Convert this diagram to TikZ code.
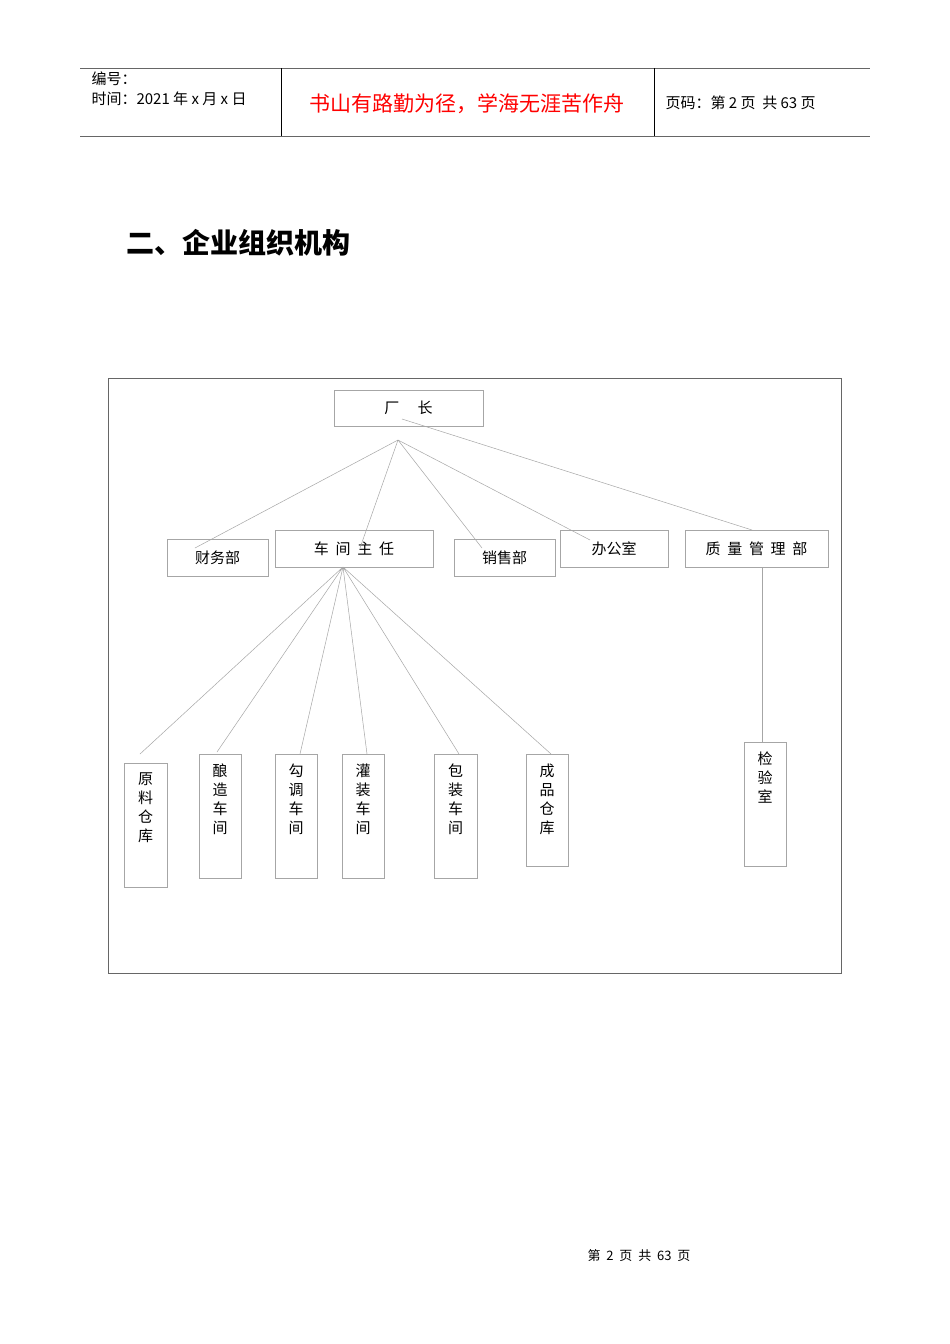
\documentclass[tikz,border=0pt]{standalone}
\usepackage{fontspec}
\setmainfont{Noto Sans CJK SC}
\begin{document}
\begin{tikzpicture}[x=1pt,y=-1pt,
  bx/.style={draw=gray!70,line width=0.6pt,inner sep=0pt,font=\fontsize{15}{15}\selectfont},
  ln/.style={draw=gray!70,line width=0.5pt},
  vt/.style={align=center,font=\fontsize{15}{19}\selectfont,anchor=north}]
\useasboundingbox[fill=white] (0,0) rectangle (950,1344);
% header
\draw[line width=0.8pt,gray!80!black] (80,68) -- (870,68);
\draw[line width=1pt,gray!80!black] (80,136) -- (870,136);
\draw[line width=0.6pt] (281,68) -- (281,136) (654,68) -- (654,136);
\node[anchor=west,font=\fontsize{15}{15}\selectfont] (h1) at (88,79) {编号：};
\node[anchor=west,font=\fontsize{15}{15}\selectfont] (h2) at (88,99) {时间：2021 年 x 月 x 日};
\node[font=\fontsize{21}{21}\selectfont,text=red] (h3) at (467,104) {书山有路勤为径，学海无涯苦作舟};
\node[anchor=west,font=\fontsize{15}{15}\selectfont] (h4) at (662,103) {页码：第 2 页\ \ 共 63 页};
\node[anchor=west,font=\bfseries\fontsize{28}{28}\selectfont] (title) at (123,243) {二、企业组织机构};
\node[font=\fontsize{13}{13}\selectfont] (foot) at (639,1256) {第\ \ 2\ \ 页\ \ 共\ \ 63\ \ 页};
% frame
\draw[line width=0.8pt,gray!80!black] (108,378) rectangle (841,973);
% top boxes
\node[bx,minimum width=149,minimum height=36] (cz) at (408.5,408) {厂\quad\ 长};
\node[bx,minimum width=101,minimum height=37] (cw) at (217.5,557.5) {财务部};
\node[bx,minimum width=158,minimum height=37] (cj) at (354,548.5) {车\ \ 间\ \ 主\ \ 任};
\node[bx,minimum width=101,minimum height=37] (xs) at (504.5,557.5) {销售部};
\node[bx,minimum width=108,minimum height=37] (bg) at (614,548.5) {办公室};
\node[bx,minimum width=143,minimum height=37] (zl) at (756.5,548.5) {质\ \ 量\ \ 管\ \ 理\ \ 部};
\coordinate (hub) at (398,440);
\coordinate (e1) at (195,548);
\coordinate (e2) at (360,548);
\coordinate (e3) at (482,548);
\coordinate (e4) at (590,540);
\coordinate (s5) at (402,419);
\coordinate (e5) at (752,530);
\draw[ln] (hub) -- (e1) (hub) -- (e2) (hub) -- (e3) (hub) -- (e4) (s5) -- (e5);
% workshop boxes
\foreach \n/\xa/\ya/\xb/\yb/\t in {yl/124/763/167/887/原\\料\\仓\\库, nz/199/754/241/878/酿\\造\\车\\间, gd/275/754/317/878/勾\\调\\车\\间, gz/342/754/384/878/灌\\装\\车\\间, bz/434/754/477/878/包\\装\\车\\间, cp/526/754/568/866/成\\品\\仓\\库, jy/744/742/786/866/检\\验\\室}{
  \draw[draw=gray!70,line width=0.6pt] (\xa,\ya) rectangle (\xb,\yb);
  \node[vt] (\n) at ({(\xa+\xb)/2},{\ya+6}) {\t};
}
\coordinate (wh) at (343,567);
\coordinate (w1) at (140,754);
\coordinate (w2) at (217,752);
\coordinate (w3) at (300,754);
\coordinate (w4) at (367,754);
\coordinate (w5) at (459,754);
\coordinate (w6) at (551,754);
\draw[ln] (wh) -- (w1) (wh) -- (w2) (wh) -- (w3) (wh) -- (w4) (wh) -- (w5) (wh) -- (w6);
\coordinate (q1) at (762,567);
\coordinate (q2) at (762,742);
\draw[ln] (q1) -- (q2);
\end{tikzpicture}
\end{document}
